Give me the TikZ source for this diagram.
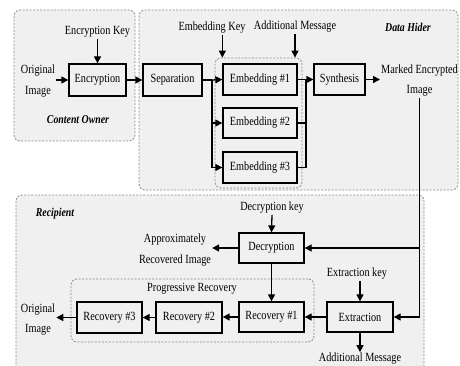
\documentclass[tikz,border=0pt]{standalone}
\usepackage{fontspec}
\setmainfont{Liberation Serif}[FakeStretch=0.82]
\usetikzlibrary{arrows.meta}
\definecolor{regionfill}{HTML}{F0F0F0}
\definecolor{dashgray}{HTML}{8A8A8A}
\begin{document}
\begin{tikzpicture}[x=1pt,y=-1pt,
  every node/.style={font=\fontsize{12.5}{20.5}\selectfont, inner sep=1pt},
  region/.style={draw=dashgray, fill=regionfill, line width=0.8pt,
    dash pattern=on 2pt off 1.5pt, rounded corners=6pt},
  proc/.style={draw=black, line width=1.3pt, minimum height=30pt},
  lbl/.style={align=center},
  role/.style={font=\fontsize{12}{14}\selectfont\bfseries\itshape},
  link/.style={line width=1.3pt},
  arr/.style={link, -{Triangle[length=7pt,width=7pt]}}]
\clip (0,0) rectangle (460,366);
\fill[white] (0,0) rectangle (460,366);

% dashed regions
\draw[region] (14,10) rectangle (135,141);
\draw[region] (139,10) rectangle (458,190);
\draw[region] (16,195) rectangle (424,380);
\node[region, minimum width=87pt, minimum height=130pt] (embgrp) at (258.5,123) {};
\node[region, minimum width=243pt, minimum height=63pt] (progrp) at (192.5,310.5) {};

% role captions
\node[role] (owner) at (78,120) {Content Owner};
\node[role] (hider) at (408,27) {Data Hider};
\node[role] (recip) at (55,214) {Recipient};

% content owner
\node[proc, minimum width=57pt, minimum height=32pt] (enc) at (97.5,80) {Encryption};
\node[lbl] (enckey) at (97.5,32) {Encryption Key};
\node[lbl] (orig) at (38,81) {Original\\Image};

% data hider
\node[proc, minimum width=59pt, minimum height=32pt] (sep) at (172.5,80) {Separation};
\node[proc, minimum width=74pt, minimum height=31pt] (emb1) at (260,79.5) {Embedding \#1};
\node[proc, minimum width=74pt, minimum height=30pt] (emb2) at (260,123) {Embedding \#2};
\node[proc, minimum width=74pt, minimum height=31pt] (emb3) at (260,167.5) {Embedding \#3};
\node[proc, minimum width=51pt, minimum height=31pt] (syn) at (339.5,79.5) {Synthesis};
\node[lbl] (embkey) at (212,28) {Embedding Key};
\node[lbl] (addmsg) at (295,27) {Additional Message};
\node[lbl] (marked) at (419.5,80.5) {Marked Encrypted\\Image};
\coordinate (split) at (212,80);
\coordinate (merge) at (306,80);

% recipient
\node[proc, minimum width=65pt] (dec) at (271.5,248) {Decryption};
\node[proc, minimum width=65pt] (rec1) at (271.5,317) {Recovery \#1};
\node[proc, minimum width=66pt] (ext) at (360,317) {Extraction};
\node[proc, minimum width=66pt, minimum height=31pt] (rec2) at (189,317.5) {Recovery \#2};
\node[proc, minimum width=65pt, minimum height=31pt] (rec3) at (109.5,317.5) {Recovery \#3};
\node[lbl] (deckey) at (272,208) {Decryption key};
\node[lbl] (approx) at (175,250) {Approximately\\Recovered Image};
\node[lbl] (extkey) at (357,274) {Extraction key};
\node[lbl] (addmsg2) at (360,359) {Additional Message};
\node[lbl] (progr) at (192,289) {Progressive Recovery};
\node[lbl] (orig2) at (38,319.5) {Original\\Image};

% connectors: owner and hider
\draw[arr] (enckey.south) -- (enc.north);
\draw[arr] (orig.east |- enc.west) -- (enc.west);
\draw[arr] (enc.east) -- (sep.west);
\draw[link] (sep.east) -- (split);
\draw[arr] (split) -- (emb1.west);
\draw[arr] (split) |- (emb2.west);
\draw[arr] (split) |- (emb3.west);
\draw[arr] (embkey.south -| emb1.west) -- (emb1.west |- embgrp.north);
\draw[arr] (addmsg.south) -- (addmsg.south |- embgrp.north);
\draw[link] (emb2.east) -| (merge);
\draw[link] (emb3.east) -| (merge);
\draw[arr] (emb1.east) -- (syn.west);
\draw[arr] (syn.east) -- (marked.west |- syn.east);

% connectors: recipient
\coordinate (tapdec) at (marked.south |- dec.east);
\coordinate (tapext) at (marked.south |- ext.east);
\draw[link] (marked.south) -- (tapext);
\draw[arr] (tapdec) -- (dec.east);
\draw[arr] (tapext) -- (ext.east);
\draw[arr] (deckey.south) -- (dec.north);
\draw[arr] (dec.west) -- (approx.east |- dec.west);
\draw[arr] (dec.south) -- (rec1.north);
\draw[arr] (extkey.south -| ext.north) -- (ext.north);
\draw[arr] (ext.south) -- (addmsg2.north);
\draw[arr] (ext.west) -- (rec1.east);
\draw[arr] (rec1.west) -- (rec2.east |- rec1.west);
\draw[arr] (rec2.west) -- (rec3.east);
\draw[arr] (rec3.west) -- (orig2.east |- rec3.west);
\end{tikzpicture}
\end{document}
